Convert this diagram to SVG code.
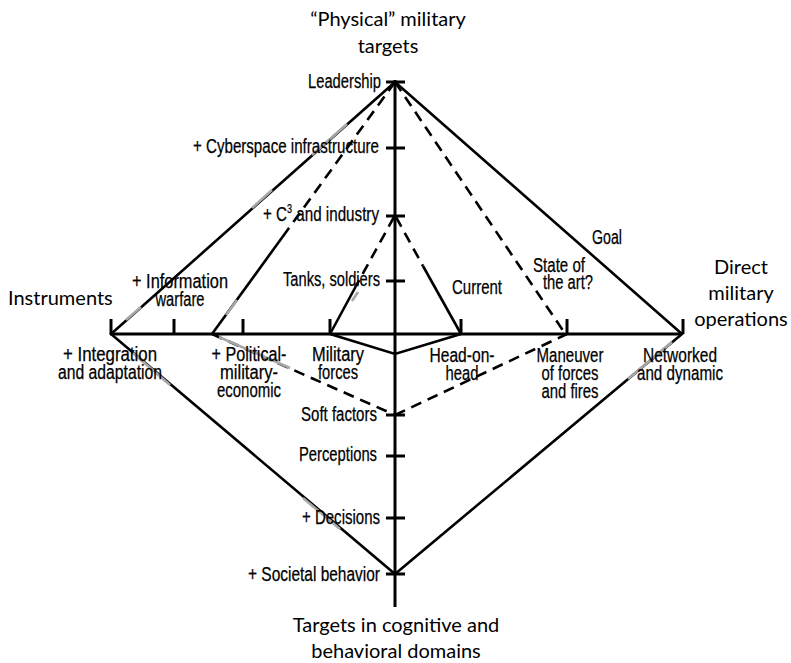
<svg xmlns="http://www.w3.org/2000/svg" width="791" height="663" viewBox="0 0 791 663">
  <style>
    .bg { fill: #ffffff; }
    .axis { stroke: #000; stroke-width: 3; fill: none; stroke-linecap: butt; }
    .tick { stroke: #000; stroke-width: 3; fill: none; }
    .solid { stroke: #000; stroke-width: 2.6; fill: none; stroke-linejoin: miter; }
    .dash { stroke: #000; stroke-width: 2.6; fill: none; stroke-dasharray: 11 7; }
    .fade { stroke: #a8a8a8; stroke-width: 2.6; fill: none; }
    .title { font-family: Lato, "Open Sans", "Liberation Sans", sans-serif; font-size: 20px; fill: #000; }
    .lbl { font-family: "Liberation Sans", Arial, sans-serif; font-size: 20px; fill: #000; stroke: #000; stroke-width: 0.25; }
    .end { text-anchor: end; }
    .mid { text-anchor: middle; }
  </style>

  <rect class="bg" x="0" y="0" width="791" height="663"/>

  <!-- Axes and scale ticks -->
  <g id="axes">
    <line class="axis" x1="395" y1="80" x2="395" y2="607"/>
    <line class="axis" x1="110" y1="334" x2="682" y2="334"/>
    <!-- ticks on the vertical axis -->
    <line class="tick" x1="386" y1="82" x2="405" y2="82"/>
    <line class="tick" x1="386" y1="148" x2="405" y2="148"/>
    <line class="tick" x1="386" y1="216" x2="405" y2="216"/>
    <line class="tick" x1="386" y1="281" x2="405" y2="281"/>
    <line class="tick" x1="386" y1="415" x2="405" y2="415"/>
    <line class="tick" x1="386" y1="456" x2="405" y2="456"/>
    <line class="tick" x1="386" y1="518" x2="405" y2="518"/>
    <line class="tick" x1="386" y1="574" x2="405" y2="574"/>
    <!-- ticks on the horizontal axis -->
    <line class="tick" x1="111" y1="319" x2="111" y2="334"/>
    <line class="tick" x1="174" y1="319" x2="174" y2="334"/>
    <line class="tick" x1="243" y1="319" x2="243" y2="334"/>
    <line class="tick" x1="330" y1="319" x2="330" y2="334"/>
    <line class="tick" x1="461" y1="319" x2="461" y2="334"/>
    <line class="tick" x1="567" y1="319" x2="567" y2="334"/>
    <line class="tick" x1="683" y1="319" x2="683" y2="334"/>
  </g>

  <!-- Capability profiles -->
  <g id="connectors">
    <!-- Goal -->
    <polygon class="solid" points="395,82 111,334 395,574 682,334"/>
    <!-- State of the art -->
    <line class="dash" x1="395" y1="82" x2="289" y2="228"/>
    <line class="solid" x1="289" y1="228" x2="212" y2="334"/>
    <line class="dash" x1="395" y1="82" x2="564" y2="332"/>
    <line class="dash" x1="212" y1="334" x2="395" y2="415"/>
    <line class="dash" x1="395" y1="415" x2="567" y2="334"/>
    <!-- Current -->
    <line class="dash" x1="394" y1="217" x2="356" y2="286"/>
    <line class="solid" x1="356" y1="286" x2="330" y2="334"/>
    <line class="dash" x1="396" y1="217" x2="423" y2="266"/>
    <line class="solid" x1="423" y1="266" x2="461" y2="334"/>
    <polyline class="solid" points="330,334 395,354 461,334"/>
    <!-- faded stretches where lines run behind labels -->
    <line class="fade" x1="347" y1="124" x2="312" y2="155"/>
    <line class="fade" x1="272" y1="190" x2="252" y2="208"/>
    <line class="fade" x1="141" y1="307" x2="126" y2="320"/>
    <line class="fade" x1="133" y1="353" x2="170" y2="385"/>
    <line class="fade" x1="303" y1="498" x2="340" y2="529"/>
    <line class="fade" x1="628" y1="379" x2="672" y2="342"/>
    <line class="fade" x1="219" y1="337" x2="290" y2="368"/>
    <line class="fade" x1="237" y1="300" x2="226" y2="315"/>
    <line class="fade" x1="358" y1="292" x2="352" y2="301"/>
  </g>

  <!-- Axis titles -->
  <g id="title-physical">
    <text class="title mid" x="388" y="26">“Physical” military</text>
    <text class="title mid" x="388" y="53">targets</text>
  </g>
  <g id="title-instruments">
    <text class="title" x="8" y="305">Instruments</text>
  </g>
  <g id="title-direct">
    <text class="title mid" x="741" y="274">Direct</text>
    <text class="title mid" x="741" y="300">military</text>
    <text class="title mid" x="741" y="326">operations</text>
  </g>
  <g id="title-cognitive">
    <text class="title mid" x="396" y="632">Targets in cognitive and</text>
    <text class="title mid" x="396" y="658">behavioral domains</text>
  </g>

  <!-- Scale labels: physical targets -->
  <g id="node-leadership"><text class="lbl end" x="381" y="88" textLength="73" lengthAdjust="spacingAndGlyphs">Leadership</text></g>
  <g id="node-cyberspace"><text class="lbl end" x="379" y="153" textLength="186" lengthAdjust="spacingAndGlyphs">+ Cyberspace infrastructure</text></g>
  <g id="node-c3"><text class="lbl end" x="379" y="221" textLength="116" lengthAdjust="spacingAndGlyphs">+ C<tspan font-size="12" dy="-8">3</tspan><tspan dy="8"> and industry</tspan></text></g>
  <g id="node-tanks"><text class="lbl end" x="380" y="286" textLength="97" lengthAdjust="spacingAndGlyphs">Tanks, soldiers</text></g>

  <!-- Scale labels: cognitive and behavioral targets -->
  <g id="node-soft"><text class="lbl end" x="377" y="421" textLength="76" lengthAdjust="spacingAndGlyphs">Soft factors</text></g>
  <g id="node-perceptions"><text class="lbl end" x="377" y="461" textLength="78" lengthAdjust="spacingAndGlyphs">Perceptions</text></g>
  <g id="node-decisions"><text class="lbl end" x="380" y="524" textLength="78" lengthAdjust="spacingAndGlyphs">+ Decisions</text></g>
  <g id="node-societal"><text class="lbl end" x="380" y="581" textLength="132" lengthAdjust="spacingAndGlyphs">+ Societal behavior</text></g>

  <!-- Scale labels: instruments -->
  <g id="node-information">
    <text class="lbl mid" x="180" y="288" textLength="96" lengthAdjust="spacingAndGlyphs">+ Information</text>
    <text class="lbl mid" x="180" y="306" textLength="49" lengthAdjust="spacingAndGlyphs">warfare</text>
  </g>
  <g id="node-integration">
    <text class="lbl mid" x="110" y="361" textLength="94" lengthAdjust="spacingAndGlyphs">+ Integration</text>
    <text class="lbl mid" x="110" y="379" textLength="104" lengthAdjust="spacingAndGlyphs">and adaptation</text>
  </g>
  <g id="node-political">
    <text class="lbl mid" x="249" y="361" textLength="75" lengthAdjust="spacingAndGlyphs">+ Political-</text>
    <text class="lbl mid" x="249" y="379" textLength="58" lengthAdjust="spacingAndGlyphs">military-</text>
    <text class="lbl mid" x="249" y="397" textLength="64" lengthAdjust="spacingAndGlyphs">economic</text>
  </g>
  <g id="node-military-forces">
    <text class="lbl mid" x="338" y="361" textLength="52" lengthAdjust="spacingAndGlyphs">Military</text>
    <text class="lbl mid" x="338" y="379" textLength="40" lengthAdjust="spacingAndGlyphs">forces</text>
  </g>

  <!-- Scale labels: direct military operations -->
  <g id="node-head-on-head">
    <text class="lbl mid" x="462" y="362" textLength="65" lengthAdjust="spacingAndGlyphs">Head-on-</text>
    <text class="lbl mid" x="462" y="380" textLength="33" lengthAdjust="spacingAndGlyphs">head</text>
  </g>
  <g id="node-maneuver">
    <text class="lbl mid" x="570" y="362" textLength="67" lengthAdjust="spacingAndGlyphs">Maneuver</text>
    <text class="lbl mid" x="570" y="380" textLength="57" lengthAdjust="spacingAndGlyphs">of forces</text>
    <text class="lbl mid" x="570" y="398" textLength="57" lengthAdjust="spacingAndGlyphs">and fires</text>
  </g>
  <g id="node-networked">
    <text class="lbl mid" x="680" y="362" textLength="74" lengthAdjust="spacingAndGlyphs">Networked</text>
    <text class="lbl mid" x="680" y="380" textLength="86" lengthAdjust="spacingAndGlyphs">and dynamic</text>
  </g>

  <!-- Profile names -->
  <g id="label-goal"><text class="lbl" x="592" y="244" textLength="30" lengthAdjust="spacingAndGlyphs">Goal</text></g>
  <g id="label-state">
    <text class="lbl mid" x="559" y="272" textLength="52" lengthAdjust="spacingAndGlyphs">State of</text>
    <text class="lbl mid" x="568" y="289" textLength="50" lengthAdjust="spacingAndGlyphs">the art?</text>
  </g>
  <g id="label-current"><text class="lbl" x="452" y="294" textLength="50" lengthAdjust="spacingAndGlyphs">Current</text></g>
</svg>
